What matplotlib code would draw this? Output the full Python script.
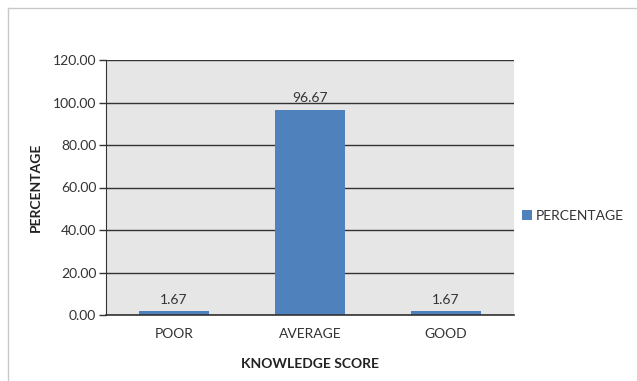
import matplotlib
matplotlib.use("Agg")
import matplotlib.pyplot as plt
from matplotlib.lines import Line2D

categories = ["POOR", "AVERAGE", "GOOD"]
percentage = [1.67, 96.67, 1.67]
yticks = [0, 20, 40, 60, 80, 100, 120]
series_name = "PERCENTAGE"

plt.rcParams["font.family"] = ["Lato", "DejaVu Sans"]

fig = plt.figure(figsize=(6.37, 3.81), dpi=100)
ax = fig.add_axes([106 / 637, 1 - 315 / 381, 408 / 637, 255 / 381])
ax.set_facecolor("#e6e6e6")

x = range(len(categories))
ax.bar(x, percentage, width=0.51, color="#4f81bd", zorder=3, label=series_name)
for xi, v in zip(x, percentage):
    ax.text(xi, v + 2.5, f"{v:.2f}", ha="center", va="bottom", fontsize=10, color="#333333", zorder=4)

ax.set_xlim(-0.5, 2.5)
ax.set_ylim(0, 120)
ax.set_yticks(yticks)
ax.set_yticklabels([f"{t:.2f}" for t in yticks], fontsize=10, color="#333333")
ax.set_xticks(list(x))
ax.set_xticklabels(categories, fontsize=10, color="#333333")
ax.tick_params(axis="x", length=0, pad=9)
ax.tick_params(axis="y", length=5, width=1, color="#333333", pad=2)
ax.yaxis.grid(True, color="#333333", linewidth=1, zorder=1)
for s in ["top", "right", "bottom"]:
    ax.spines[s].set_visible(False)
ax.spines["left"].set_color("#333333")
ax.axhline(0, color="#333333", linewidth=1.2, zorder=5, clip_on=False)

ax.set_xlabel("KNOWLEDGE SCORE", fontsize=10, fontweight="bold", color="#222222", labelpad=13)
ax.set_ylabel("PERCENTAGE", fontsize=10, fontweight="bold", color="#222222", labelpad=8)

ax.legend(loc="center left", bbox_to_anchor=(0.99, 0.39), frameon=False, fontsize=10,
          handlelength=0.7, handleheight=0.7, handletextpad=0.25, labelcolor="#333333")

# outer chart frame
fig.add_artist(Line2D([8 / 637, 1], [1 - 8 / 381, 1 - 8 / 381], color="#c8c8c8", linewidth=1))
fig.add_artist(Line2D([8 / 637, 8 / 637], [0, 1 - 8 / 381], color="#c8c8c8", linewidth=1))

fig.savefig("out.png", dpi=100)
